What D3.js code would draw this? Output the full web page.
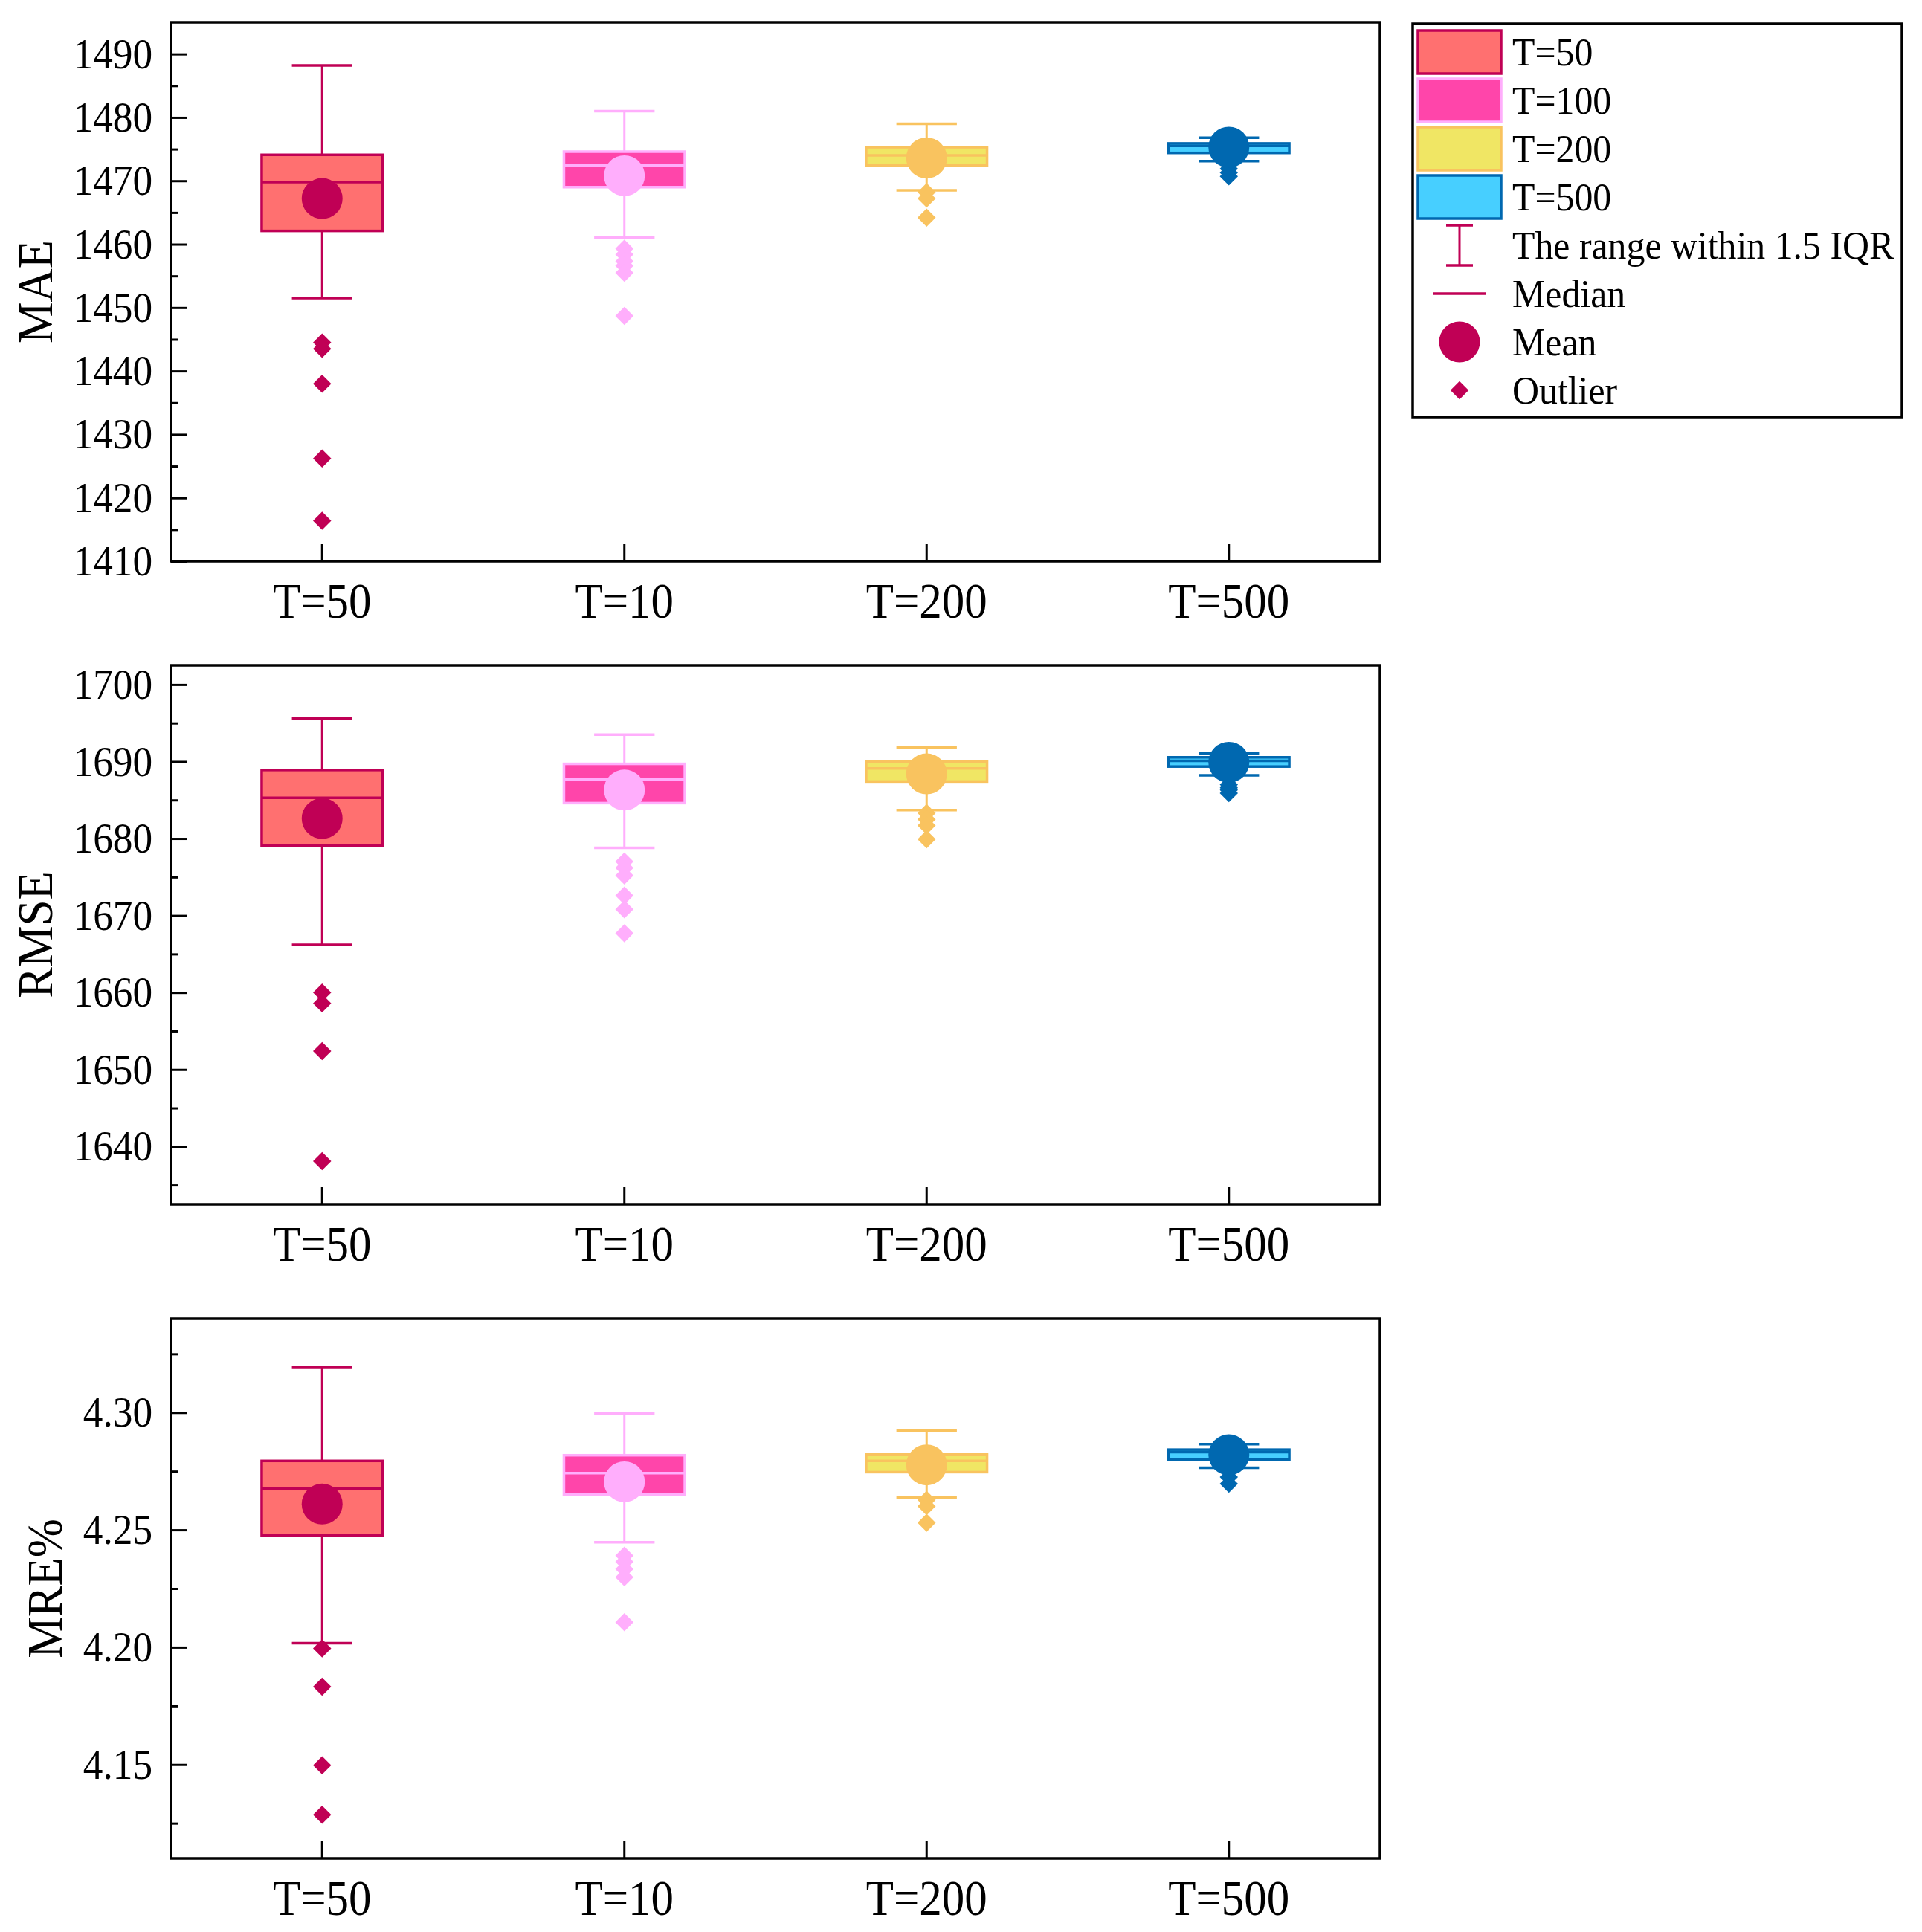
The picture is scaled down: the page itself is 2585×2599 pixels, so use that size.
<!DOCTYPE html>
<meta charset="utf-8">
<style>
    body { margin: 0; background: #fff; }
    svg { font-family: "Liberation Serif", "Times New Roman", serif; }
</style>
<body>
<script src="https://cdn.jsdelivr.net/npm/d3@7"></script>
<script>
    const categories = ["T=50", "T=10", "T=200", "T=500"];
    const legendLabels = ["T=50", "T=100", "T=200", "T=500"];
    const fillColors = ["#ff7070", "#ff45aa", "#f0e664", "#47cfff"];
    const lineColors = ["#c00055", "#ffaefc", "#f9c35f", "#0068b0"];

    // each box: [lower whisker, Q1, median, Q3, upper whisker]
    const maeBoxes = [
        [1451.5, 1462.1, 1469.8, 1474.1, 1488.2],
        [1461.1, 1469.0, 1472.4, 1474.6, 1481.0],
        [1468.5, 1472.4, 1474.0, 1475.3, 1479.0],
        [1473.1, 1474.4, 1475.5, 1475.9, 1476.8]
    ];
    const maeMeans = [1467.2, 1470.8, 1473.6, 1475.3];
    const maeOutliers = [
        [1444.5, 1443.5, 1438.0, 1426.2, 1416.4],
        [1459.3, 1458.4, 1457.3, 1456.6, 1455.5, 1448.7],
        [1468.2, 1467.2, 1464.2],
        [1471.9, 1471.3, 1470.7]
    ];

    const rmseBoxes = [
        [1666.2, 1679.1, 1685.3, 1688.9, 1695.6],
        [1678.8, 1684.6, 1687.7, 1689.7, 1693.5],
        [1683.7, 1687.4, 1689.1, 1690.0, 1691.8],
        [1688.2, 1689.35, 1690.1, 1690.55, 1691.05]
    ];
    const rmseMeans = [1682.6, 1686.3, 1688.4, 1689.9];
    const rmseOutliers = [
        [1660.0, 1658.6, 1652.4, 1638.1],
        [1677.0, 1676.2, 1675.2, 1672.6, 1670.8, 1667.7],
        [1683.3, 1682.5, 1681.7, 1679.9],
        [1687.0, 1686.6, 1686.3, 1685.9]
    ];

    const mreBoxes = [
        [4.2017, 4.2476, 4.2677, 4.2794, 4.3194],
        [4.2447, 4.2650, 4.2742, 4.2818, 4.2995],
        [4.2639, 4.2746, 4.2794, 4.2821, 4.2923],
        [4.2765, 4.2800, 4.2831, 4.2842, 4.2865]
    ];
    const mreMeans = [4.2610, 4.2705, 4.2777, 4.2820];
    const mreOutliers = [
        [4.1995, 4.1832, 4.1497, 4.1286],
        [4.2390, 4.2364, 4.2333, 4.2298, 4.2107],
        [4.2628, 4.2601, 4.2530],
        [4.2725, 4.2697]
    ];

    const maeTicks = [1410, 1420, 1430, 1440, 1450, 1460, 1470, 1480, 1490];
    const maeMinor = [1415, 1425, 1435, 1445, 1455, 1465, 1475, 1485];
    const rmseTicks = [1640, 1650, 1660, 1670, 1680, 1690, 1700];
    const rmseMinor = [1635, 1645, 1655, 1665, 1675, 1685, 1695];
    const mreTicks = [4.15, 4.20, 4.25, 4.30];
    const mreMinor = [4.125, 4.175, 4.225, 4.275, 4.325];

    const legendExtra = ["The range within 1.5 IQR", "Median", "Mean", "Outlier"];

    const width = 2585, height = 2599;
    const plotLeft = 230, plotRight = 1856;
    const serif = '"Liberation Serif", "Times New Roman", serif';
    const squeeze = "scale(0.92,1)";

    const panels = [
        {title: "MAE", top: 30, bottom: 755, domain: [1410, 1495], ticks: maeTicks, minor: maeMinor,
            fmt: d3.format("d"), boxes: maeBoxes, means: maeMeans, outliers: maeOutliers, titleX: 70},
        {title: "RMSE", top: 895, bottom: 1620, domain: [1632.5, 1702.5], ticks: rmseTicks, minor: rmseMinor,
            fmt: d3.format("d"), boxes: rmseBoxes, means: rmseMeans, outliers: rmseOutliers, titleX: 70},
        {title: "MRE%", top: 1774, bottom: 2500, domain: [4.11, 4.34], ticks: mreTicks, minor: mreMinor,
            fmt: d3.format(".2f"), boxes: mreBoxes, means: mreMeans, outliers: mreOutliers, titleX: 83}
    ];

    const svg = d3.select("body").append("svg")
        .attr("width", width)
        .attr("height", height);

    svg.append("rect").attr("width", width).attr("height", height).attr("fill", "#fff");

    const x = d3.scaleBand().domain(categories).range([plotLeft, plotRight]);
    const boxW = x.bandwidth() * 0.4;
    const capW = x.bandwidth() * 0.2;
    const cx = c => x(c) + x.bandwidth() / 2;

    const diamond = d3.symbol().type(d3.symbolSquare).size(300);

    panels.forEach(p => {
        const y = d3.scaleLinear().domain(p.domain).range([p.bottom, p.top]);
        const g = svg.append("g").attr("class", "panel");

        // boxes
        categories.forEach((c, i) => {
            const [lo, q1, med, q3, hi] = p.boxes[i];
            const xc = cx(c);
            const col = lineColors[i];
            const b = g.append("g");

            b.append("line").attr("x1", xc).attr("x2", xc).attr("y1", y(hi)).attr("y2", y(q3))
                .attr("stroke", col).attr("stroke-width", 3);
            b.append("line").attr("x1", xc).attr("x2", xc).attr("y1", y(q1)).attr("y2", y(lo))
                .attr("stroke", col).attr("stroke-width", 3);
            [hi, lo].forEach(v => {
                b.append("line").attr("x1", xc - capW / 2).attr("x2", xc + capW / 2)
                    .attr("y1", y(v)).attr("y2", y(v))
                    .attr("stroke", col).attr("stroke-width", 3.5);
            });

            b.append("rect")
                .attr("x", xc - boxW / 2).attr("y", y(q3))
                .attr("width", boxW).attr("height", y(q1) - y(q3))
                .attr("fill", fillColors[i]).attr("stroke", col).attr("stroke-width", 3.5);
            b.append("line").attr("x1", xc - boxW / 2).attr("x2", xc + boxW / 2)
                .attr("y1", y(med)).attr("y2", y(med))
                .attr("stroke", col).attr("stroke-width", 3.5);

            b.selectAll(".outlier")
                .data(p.outliers[i])
                .enter().append("path")
                .attr("class", "outlier")
                .attr("d", diamond)
                .attr("transform", d => "translate(" + xc + "," + y(d) + ") rotate(45)")
                .attr("fill", col);

            b.append("circle").attr("cx", xc).attr("cy", y(p.means[i])).attr("r", 27.5)
                .attr("fill", col);
        });

        // axes
        const yAxis = g.append("g").attr("transform", "translate(" + plotLeft + ",0)")
            .call(d3.axisLeft(y).tickValues(p.ticks).tickFormat(p.fmt)
                .tickSizeInner(-21).tickSizeOuter(0).tickPadding(27));
        yAxis.selectAll("text").attr("font-size", 58).attr("transform", squeeze);

        const yMinor = g.append("g").attr("transform", "translate(" + plotLeft + ",0)")
            .call(d3.axisLeft(y).tickValues(p.minor).tickFormat("").tickSizeInner(-10).tickSizeOuter(0));

        const xAxis = g.append("g").attr("transform", "translate(0," + p.bottom + ")")
            .call(d3.axisBottom(x).tickSizeInner(-23).tickSizeOuter(0).tickPadding(28));
        xAxis.selectAll("text").attr("font-size", 67).attr("transform", "scale(0.91,1)");

        [yAxis, yMinor, xAxis].forEach(a => {
            a.attr("font-family", serif);
            a.select(".domain").remove();
            a.selectAll("line").attr("stroke", "#000").attr("stroke-width", 3);
            a.selectAll("text").attr("fill", "#000");
        });

        g.append("rect")
            .attr("x", plotLeft).attr("y", p.top)
            .attr("width", plotRight - plotLeft).attr("height", p.bottom - p.top)
            .attr("fill", "none").attr("stroke", "#000").attr("stroke-width", 3.5);

        g.append("text")
            .attr("transform", "translate(" + p.titleX + "," + (p.top + p.bottom) / 2 + ") rotate(-90) " + squeeze)
            .attr("text-anchor", "middle")
            .attr("font-size", 68)
            .text(p.title);
    });

    // legend
    const legend = svg.append("g").attr("class", "legend");
    const rowY = i => 70 + i * 65;
    const symX = 1963;

    legend.append("rect")
        .attr("x", 1900).attr("y", 32).attr("width", 658).attr("height", 529)
        .attr("fill", "#fff").attr("stroke", "#000").attr("stroke-width", 3.5);

    legendLabels.forEach((d, i) => {
        legend.append("rect")
            .attr("x", 1907).attr("y", rowY(i) - 29).attr("width", 112).attr("height", 58)
            .attr("fill", fillColors[i]).attr("stroke", lineColors[i]).attr("stroke-width", 3.5);
    });

    const red = lineColors[0];
    const r4 = rowY(4);
    legend.append("line").attr("x1", symX).attr("x2", symX).attr("y1", r4 - 27).attr("y2", r4 + 27)
        .attr("stroke", red).attr("stroke-width", 3);
    [r4 - 27, r4 + 27].forEach(v => {
        legend.append("line").attr("x1", symX - 18).attr("x2", symX + 18).attr("y1", v).attr("y2", v)
            .attr("stroke", red).attr("stroke-width", 3.5);
    });
    legend.append("line").attr("x1", symX - 36).attr("x2", symX + 36).attr("y1", rowY(5)).attr("y2", rowY(5))
        .attr("stroke", red).attr("stroke-width", 3.5);
    legend.append("circle").attr("cx", symX).attr("cy", rowY(6)).attr("r", 27.5).attr("fill", red);
    legend.append("path").attr("d", diamond)
        .attr("transform", "translate(" + symX + "," + rowY(7) + ") rotate(45)")
        .attr("fill", red);

    legendLabels.concat(legendExtra).forEach((d, i) => {
        legend.append("text")
            .attr("transform", "translate(2034," + (rowY(i) + 17.5) + ") scale(0.94,1)")
            .attr("font-size", 53)
            .text(d);
    });
</script>
</body>
</html>
